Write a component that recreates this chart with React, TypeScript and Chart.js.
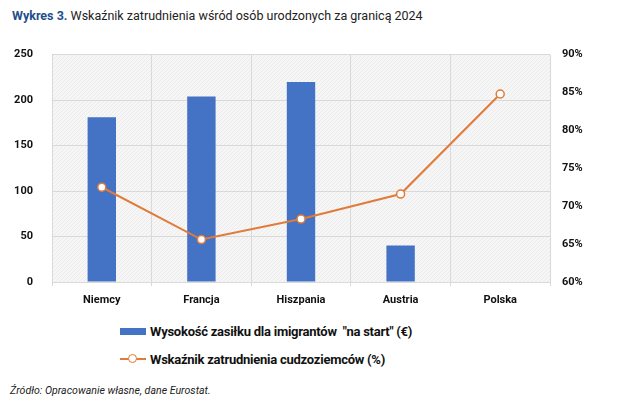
import { useEffect, useRef } from "react"
import { Chart, registerables } from "chart.js"

Chart.register(...registerables)

const countries = ["Niemcy", "Francja", "Hiszpania", "Austria", "Polska"]
const allowance = [181, 204, 220, 40, 0]
const employmentRate = [72.5, 65.6, 68.3, 71.6, 84.8]

const allowanceLabel = 'Wysokość zasiłku dla imigrantów  "na start" (€)'
const rateLabel = "Wskaźnik zatrudnienia cudzoziemców (%)"

const FONT = "Roboto, sans-serif"
const BLUE = "#4472C4"
const ORANGE = "#E07B39"

// light hatched background behind the plot area
const plotBackground = {
  id: "plotBackground",
  beforeDraw(chart: Chart) {
    const { ctx, chartArea } = chart
    const tile = document.createElement("canvas")
    tile.width = 4
    tile.height = 4
    const t = tile.getContext("2d")!
    t.fillStyle = "#f6f6f6"
    t.fillRect(0, 0, 4, 4)
    t.strokeStyle = "#ebebeb"
    t.lineWidth = 1
    t.beginPath()
    t.moveTo(0, 4)
    t.lineTo(4, 0)
    t.stroke()
    ctx.save()
    ctx.fillStyle = ctx.createPattern(tile, "repeat") || "#f4f4f4"
    ctx.fillRect(chartArea.left, chartArea.top, chartArea.right - chartArea.left, chartArea.bottom - chartArea.top)
    ctx.restore()
  },
}

function EmploymentChart() {
  const chartRef = useRef<HTMLCanvasElement>(null)
  const chartInstance = useRef<Chart | null>(null)

  useEffect(() => {
    if (!chartRef.current) return
    if (chartInstance.current) chartInstance.current.destroy()

    const tickFont = { family: FONT, size: 11, weight: "bold" as const }

    chartInstance.current = new Chart(chartRef.current, {
      type: "bar",
      data: {
        labels: countries,
        datasets: [
          {
            type: "line",
            label: rateLabel,
            data: employmentRate,
            yAxisID: "y1",
            borderColor: ORANGE,
            borderWidth: 2,
            pointBackgroundColor: "#ffffff",
            pointBorderColor: ORANGE,
            pointBorderWidth: 1.5,
            pointRadius: 4,
            tension: 0,
          },
          {
            type: "bar",
            label: allowanceLabel,
            data: allowance,
            yAxisID: "y",
            backgroundColor: BLUE,
            categoryPercentage: 1,
            barPercentage: 0.285,
          },
        ],
      },
      options: {
        responsive: false,
        animation: false,
        layout: { padding: 0 },
        plugins: {
          legend: { display: false },
          tooltip: { enabled: false },
        },
        scales: {
          x: {
            offset: true,
            grid: { offset: true, color: "#d9d9d9", tickLength: 4 },
            border: { color: "#d9d9d9" },
            ticks: { color: "#111", font: tickFont, padding: 8 },
            afterFit: (s: any) => {
              s.height = 33
            },
          },
          y: {
            position: "left",
            min: 0,
            max: 250,
            ticks: { stepSize: 50, color: "#111", font: tickFont, padding: 19 },
            grid: { color: "#d9d9d9", drawTicks: false },
            border: { display: false },
            afterFit: (s: any) => {
              s.width = 52
            },
          },
          y1: {
            position: "right",
            min: 60,
            max: 90,
            ticks: {
              stepSize: 5,
              color: "#111",
              font: tickFont,
              padding: 12,
              callback: (v: any) => v + "%",
            },
            grid: { display: false, drawTicks: false },
            border: { display: false },
            afterFit: (s: any) => {
              s.width = 69
            },
          },
        },
      },
      plugins: [plotBackground],
    })

    return () => {
      if (chartInstance.current) {
        chartInstance.current.destroy()
        chartInstance.current = null
      }
    }
  }, [])

  return <canvas ref={chartRef} width={619} height={286} style={{ display: "block" }} />
}

export default function App() {
  document.body.style.margin = "0"
  const legendText = { fontFamily: FONT, fontWeight: 700, fontSize: 13, letterSpacing: -0.25, color: "#111" }
  return (
    <div style={{ position: "relative", width: 619, height: 401, background: "#fff", fontFamily: FONT, overflow: "hidden" }}>
      <div style={{ position: "absolute", left: 12, top: 8, fontSize: 12.5, color: "#222", whiteSpace: "nowrap" }}>
        <span style={{ color: "#1F4E8C", fontWeight: 700 }}>Wykres 3.</span> Wskaźnik zatrudnienia wśród osób urodzonych za granicą 2024
      </div>
      <div style={{ position: "absolute", left: 0, top: 29 }}>
        <EmploymentChart />
      </div>
      <div style={{ position: "absolute", left: 120, top: 320, ...legendText }}>
        <div style={{ display: "flex", alignItems: "center", height: 22, whiteSpace: "pre" }}>
          <span style={{ display: "inline-block", width: 26, height: 7, background: BLUE, marginRight: 4 }} />
          {allowanceLabel}
        </div>
        <div style={{ display: "flex", alignItems: "center", height: 22, marginTop: 6, whiteSpace: "pre" }}>
          <span style={{ position: "relative", display: "inline-block", width: 26, height: 10, marginRight: 4 }}>
            <span style={{ position: "absolute", left: 0, right: 0, top: 4, height: 2, background: ORANGE }} />
            <span
              style={{
                position: "absolute",
                left: 8,
                top: 0,
                width: 7,
                height: 7,
                borderRadius: "50%",
                border: `1.5px solid ${ORANGE}`,
                background: "#fff",
              }}
            />
          </span>
          {rateLabel}
        </div>
      </div>
      <div style={{ position: "absolute", left: 10, top: 384, fontSize: 10.6, fontStyle: "italic", color: "#222" }}>
        Źródło: Opracowanie własne, dane Eurostat.
      </div>
    </div>
  )
}
